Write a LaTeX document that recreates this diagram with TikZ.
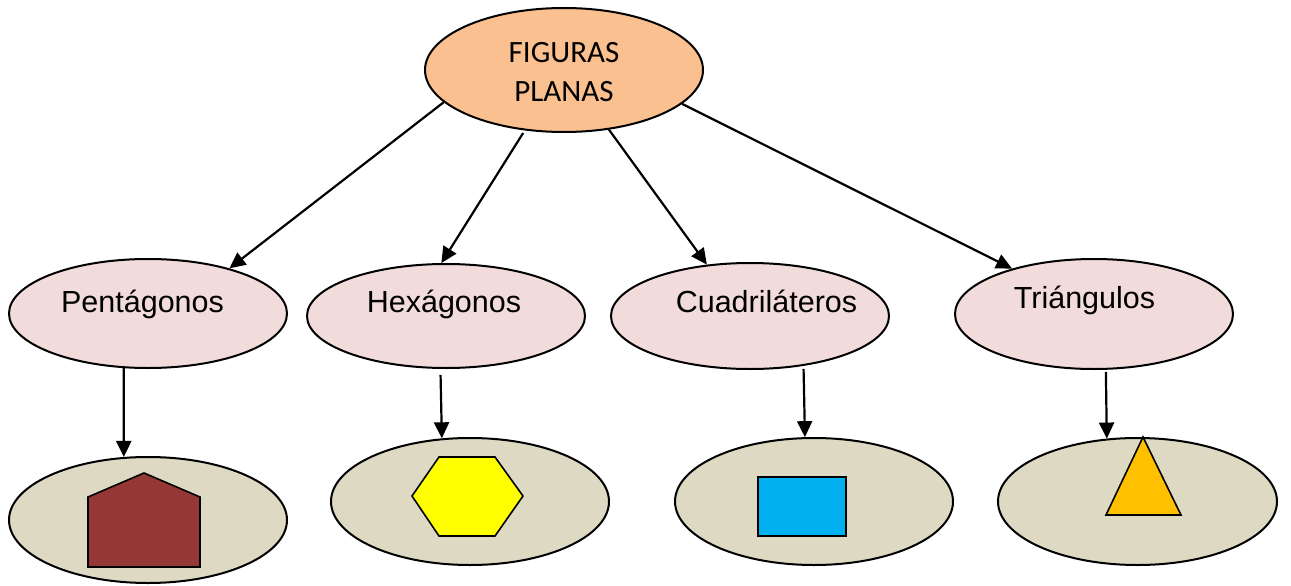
\documentclass[tikz,border=0pt]{standalone}
\usepackage{fontspec}
\setmainfont{Liberation Sans}
\newfontfamily\calib{Carlito}
\usetikzlibrary{arrows.meta,shapes.geometric}
\definecolor{peach}{HTML}{FAC090}
\definecolor{midpink}{HTML}{F2DCDB}
\definecolor{botgray}{HTML}{DDD9C3}
\definecolor{pentred}{HTML}{953735}
\definecolor{hexyellow}{HTML}{FFFF00}
\definecolor{rectblue}{HTML}{00B0F0}
\definecolor{triorange}{HTML}{FFC000}
\begin{document}
\begin{tikzpicture}[x=1pt,y=-1pt,
  ell/.style={draw=black, line width=2pt, shape=ellipse, minimum width=278pt, inner sep=0pt},
  lbl/.style={anchor=base, inner sep=0pt, font=\fontsize{30.5}{36}\selectfont},
  toplbl/.style={anchor=base, inner sep=0pt, font=\calib\fontsize{31}{36}\selectfont},
  arr/.style={-{Triangle[length=16pt,width=15pt]}, line width=2.2pt},
  fig/.style={draw=black, line width=1.6pt, line join=miter}
]
\useasboundingbox (0,0) rectangle (1291,586);

% ellipses
\node[ell, fill=peach, minimum height=124pt] (top) at (564,70) {};
\node[ell, fill=midpink, minimum height=109pt] (pent) at (148,313.5) {};
\node[ell, fill=midpink, minimum height=104pt] (hex) at (446,316) {};
\node[ell, fill=midpink, minimum height=106pt] (quad) at (750,316) {};
\node[ell, fill=midpink, minimum height=110pt] (tri) at (1094,314) {};
\node[ell, fill=botgray, minimum height=126pt] (pentB) at (148,520) {};
\node[ell, fill=botgray, minimum height=127pt] (hexB) at (470,501.5) {};
\node[ell, fill=botgray, minimum height=127pt] (quadB) at (814,501.5) {};
\node[ell, fill=botgray, minimum height=127pt, minimum width=279pt] (triB) at (1137.5,501.5) {};

% labels
\node[toplbl] (topT1) at (564,63) {FIGURAS};
\node[toplbl] (topT2) at (564,102) {PLANAS};
\node[lbl] (pentT) at (142.5,312) {Pentágonos};
\node[lbl] (hexT) at (444,312) {Hexágonos};
\node[lbl] (quadT) at (766.5,312) {Cuadriláteros};
\node[lbl] (triT) at (1084.5,308) {Triángulos};

% figures
\draw[fig, fill=pentred] (88,567) -- (88,497) -- (144,473) -- (200,497) -- (200,567) -- cycle;
\draw[fig, fill=hexyellow] (412,496) -- (439,457) -- (495,457) -- (523,496) -- (495,536) -- (439,536) -- cycle;
\draw[fig, fill=rectblue] (758,477) rectangle (846,536);
\draw[fig, fill=triorange] (1143,437) -- (1181,515) -- (1106,515) -- cycle;

% connectors
\draw[arr] (top.195) -- (pent.29.4);
\draw[arr, shorten <=3pt] (top.237.4) -- (hex.95.9);
\draw[arr] (top.307.6) -- (quad.130.8);
\draw[arr] (top.344.4) -- (tri.151.9);
\draw[arr] (pent.246) -- (pentB.111);
\draw[arr, shorten <=6pt] (hex.264.5) -- (hexB.114.4);
\draw[arr, shorten <=3pt] (quad.317.3) -- (quadB.98.9);
\draw[arr, shorten <=2pt] (tri.282.1) -- (triB.116.1);
\end{tikzpicture}
\end{document}
